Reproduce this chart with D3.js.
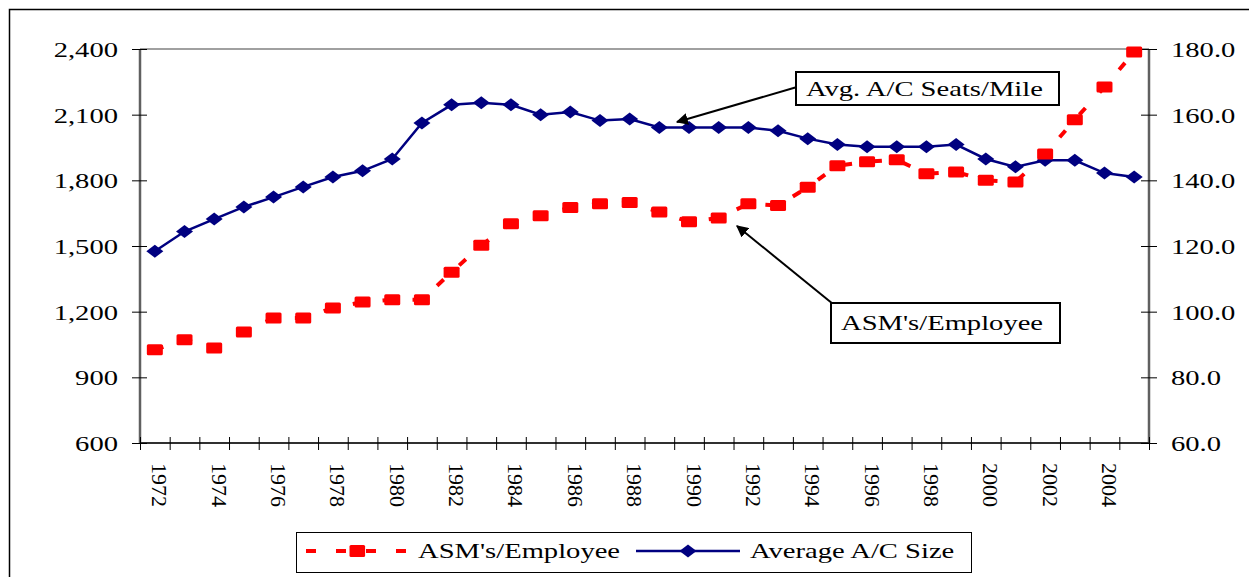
<!DOCTYPE html>
<meta charset="utf-8">
<script src="https://d3js.org/d3.v7.min.js"></script>
<style>
body { margin: 0; background: #fff; }
text {
  font-family: "Liberation Serif", "Times New Roman", serif;
  font-size: 22px;
  fill: #000;
}
.frame { fill: none; stroke: #000; stroke-width: 1.5px; }
.axis path { display: none; }
.axis line { stroke: #000; stroke-width: 1px; }
</style>
<body>
<script>

// data
var years = d3.range(1972, 2006);
var asmPerEmployee = [1026, 1072, 1034, 1107, 1171, 1171, 1217, 1244, 1255, 1255,
                      1380, 1503, 1602, 1638, 1676, 1693, 1699, 1655, 1611, 1628,
                      1693, 1685, 1768, 1867, 1885, 1894, 1830, 1838, 1800, 1792,
                      1920, 2077, 2226, 2386];
var avgAcSize = [118.4, 124.4, 128.2, 131.9, 134.9, 138.0, 141.0, 142.9, 146.5, 157.5,
                 163.0, 163.6, 163.0, 160.0, 160.8, 158.2, 158.7, 156.1, 156.1, 156.1,
                 156.1, 155.1, 152.7, 150.9, 150.2, 150.2, 150.2, 150.9, 146.5, 144.1,
                 146.1, 146.1, 142.2, 141.0];
var leftTicks = [600, 900, 1200, 1500, 1800, 2100, 2400];
var rightTicks = [60, 80, 100, 120, 140, 160, 180];
var yearLabels = years.filter(function(d) { return d % 2 == 0; });

var width = 1249,
    height = 577;
var plotLeft = 140, plotRight = 1149, plotTop = 49, plotBottom = 443;
var stretch = 1.3;

var svg = d3.select("body").append("svg")
    .attr("width", width)
    .attr("height", height);

svg.append("rect").attr("width", width).attr("height", height).attr("fill", "#fff");

// outer frame
svg.append("rect").attr("class", "frame")
    .attr("x", 9.5).attr("y", 9.5)
    .attr("width", 1260).attr("height", 600);

var x = d3.scaleBand().domain(years).range([plotLeft, plotRight]).padding(0);
var xEdge = d3.scaleLinear().domain([0, years.length]).range([plotLeft, plotRight]);
var yLeft = d3.scaleLinear().domain([600, 2400]).range([plotBottom, plotTop]);
var yRight = d3.scaleLinear().domain([60, 180]).range([plotBottom, plotTop]);
var bw = x.bandwidth();

function cx(d, i) { return x(years[i]) + bw / 2; }

// plot box
svg.append("line").attr("x1", plotLeft).attr("x2", plotRight).attr("y1", plotTop).attr("y2", plotTop)
    .attr("stroke", "#808080").attr("stroke-width", 1.5);
svg.append("line").attr("x1", plotLeft).attr("x2", plotLeft).attr("y1", plotTop).attr("y2", plotBottom)
    .attr("stroke", "#606060").attr("stroke-width", 2.5);
svg.append("line").attr("x1", plotRight).attr("x2", plotRight).attr("y1", plotTop).attr("y2", plotBottom)
    .attr("stroke", "#606060").attr("stroke-width", 2.5);
svg.append("line").attr("x1", plotLeft).attr("x2", plotRight).attr("y1", plotBottom).attr("y2", plotBottom)
    .attr("stroke", "#303030").attr("stroke-width", 2);

// left axis
var gl = svg.append("g").attr("class", "axis")
    .attr("transform", "translate(" + plotLeft + ",0)")
    .call(d3.axisLeft(yLeft).tickValues(leftTicks).tickSize(8).tickPadding(14)
      .tickFormat(d3.format(",")));
gl.selectAll(".tick line").attr("x1", 7);
gl.selectAll(".tick text")
    .attr("x", null).attr("dy", "0.34em")
    .attr("transform", "translate(-22,0) scale(" + stretch + ",1)");

// right axis
var gr = svg.append("g").attr("class", "axis")
    .attr("transform", "translate(" + plotRight + ",0)")
    .call(d3.axisRight(yRight).tickValues(rightTicks).tickSize(8).tickPadding(13)
      .tickFormat(d3.format(".1f")));
gr.selectAll(".tick line").attr("x1", -8);
gr.selectAll(".tick text")
    .attr("x", null).attr("dy", "0.34em")
    .attr("transform", "translate(22,0) scale(" + stretch + ",1)");

// bottom ticks between the categories
var gb = svg.append("g").attr("class", "axis")
    .attr("transform", "translate(0," + plotBottom + ")")
    .call(d3.axisBottom(xEdge).tickValues(d3.range(years.length + 1)).tickSize(7).tickFormat(""));
gb.selectAll(".tick line").attr("y1", -6);

// year labels
var gy = svg.append("g").attr("class", "axis")
    .attr("transform", "translate(0," + plotBottom + ")")
    .call(d3.axisBottom(x).tickValues(yearLabels).tickSize(0));
gy.selectAll(".tick text")
    .attr("y", null).attr("dy", "0.34em")
    .attr("text-anchor", "start")
    .attr("font-size", "23px")
    .attr("transform", "translate(5,20) rotate(90)");

// lines
var redLine = d3.line().x(cx).y(function(d) { return yLeft(d); });
var blueLine = d3.line().x(cx).y(function(d) { return yRight(d); });

svg.append("path").datum(avgAcSize)
    .attr("d", blueLine)
    .attr("fill", "none").attr("stroke", "#000080").attr("stroke-width", 2.5);

svg.append("path").datum(asmPerEmployee)
    .attr("d", redLine)
    .attr("fill", "none").attr("stroke", "#ff0000").attr("stroke-width", 4)
    .attr("stroke-dasharray", "9,21");

var diamond = "M0,-6.5L8.5,0L0,6.5L-8.5,0Z";

svg.append("g").selectAll("path")
    .data(avgAcSize)
    .enter().append("path")
    .attr("d", diamond)
    .attr("fill", "#000080")
    .attr("transform", function(d, i) { return "translate(" + cx(d, i) + "," + yRight(d) + ")"; });

svg.append("g").selectAll("rect")
    .data(asmPerEmployee)
    .enter().append("rect")
    .attr("x", function(d, i) { return cx(d, i) - 8; })
    .attr("y", function(d) { return yLeft(d) - 5.5; })
    .attr("width", 16).attr("height", 11)
    .attr("rx", 1.5)
    .attr("fill", "#ff0000");

// annotations
svg.append("defs").append("marker")
    .attr("id", "arrow")
    .attr("viewBox", "0 0 10 10")
    .attr("refX", 9).attr("refY", 5)
    .attr("markerWidth", 6).attr("markerHeight", 6)
    .attr("markerUnits", "strokeWidth")
    .attr("orient", "auto")
  .append("path").attr("d", "M0,0L10,5L0,10Z").attr("fill", "#000");

function note(label, bx, by, bwid, bh, x1, y1, x2, y2) {
  svg.append("line")
      .attr("x1", x1).attr("y1", y1).attr("x2", x2).attr("y2", y2)
      .attr("stroke", "#000").attr("stroke-width", 2)
      .attr("marker-end", "url(#arrow)");
  svg.append("rect")
      .attr("x", bx).attr("y", by).attr("width", bwid).attr("height", bh)
      .attr("fill", "#fff").attr("stroke", "#000").attr("stroke-width", 2);
  svg.append("text")
      .attr("transform", "translate(" + (bx + 10) + "," + (by + bh / 2) + ") scale(" + stretch + ",1)")
      .attr("dy", "0.34em")
      .text(label);
}

note("Avg. A/C Seats/Mile", 796, 72, 263, 33, 797, 87, 677, 122);
note("ASM's/Employee", 831, 303, 229, 40, 833, 304, 737, 226);

// legend
var lg = svg.append("g");
lg.append("rect")
    .attr("x", 296.5).attr("y", 532.5).attr("width", 675).attr("height", 40)
    .attr("fill", "#fff").attr("stroke", "#000").attr("stroke-width", 1);

lg.append("line")
    .attr("x1", 306).attr("x2", 408).attr("y1", 551).attr("y2", 551)
    .attr("stroke", "#ff0000").attr("stroke-width", 4).attr("stroke-dasharray", "10,20");
lg.append("rect")
    .attr("x", 349.5).attr("y", 545).attr("width", 15.6).attr("height", 12).attr("rx", 1.5)
    .attr("fill", "#ff0000");
lg.append("text")
    .attr("transform", "translate(418,551) scale(" + stretch + ",1)")
    .attr("dy", "0.34em")
    .text("ASM's/Employee");

lg.append("line")
    .attr("x1", 636).attr("x2", 740).attr("y1", 551).attr("y2", 551)
    .attr("stroke", "#000080").attr("stroke-width", 2.5);
lg.append("path")
    .attr("d", diamond)
    .attr("fill", "#000080")
    .attr("transform", "translate(688,551)");
lg.append("text")
    .attr("transform", "translate(750,551) scale(" + stretch + ",1)")
    .attr("dy", "0.34em")
    .text("Average A/C Size");

</script>
</body>
</html>
